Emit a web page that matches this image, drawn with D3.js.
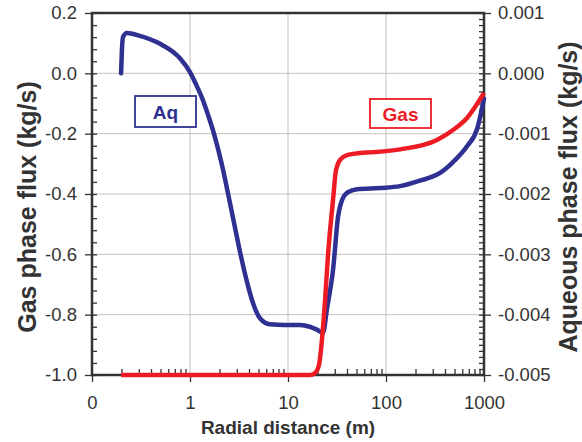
<!DOCTYPE html>
<html>
<head>
<meta charset="utf-8">
<script src="https://cdn.jsdelivr.net/npm/d3@7"></script>
<style>
  body { margin: 0; background: #fff; }
  svg { display: block; font-family: "Liberation Sans", Arial, sans-serif; }
  .tick text { fill: #333; }
</style>
</head>
<body>
<svg id="chart" width="582" height="442"></svg>
<script>
// Radial distance (m) and flux values
const aqDist = [0.198, 0.202, 0.207, 0.227, 0.309, 0.494, 0.79, 1.0, 1.15, 1.33, 1.53, 1.80, 2.12,
    2.50, 2.94, 3.24, 3.82, 4.40, 5.18, 6.55, 9.3, 13.3, 16.7, 19.8, 22.8, 25.0, 28.8, 32.4,
    35.6, 40.9, 50.6, 86.9, 139, 222, 356, 483, 671, 855, 1000];
const aqFlux = [0.0, 0.00039, 0.00060, 0.00067, 0.00062, 0.00049, 0.00025, 0.00002, -0.00018, -0.00041,
    -0.00069, -0.00106, -0.00152, -0.00207, -0.00263, -0.00296, -0.00346, -0.00381, -0.00406,
    -0.00416, -0.00417, -0.00417, -0.00420, -0.00425, -0.00430, -0.00390, -0.00326, -0.00238, -0.00210,
    -0.00197, -0.00192, -0.00190, -0.00187, -0.00178, -0.00165, -0.00147, -0.00121, -0.00091, -0.00042];

const gasDist = [0.198, 1, 10, 16.7, 18.9, 20.7, 22.2, 23.9, 25.6, 28.8, 30.9, 34.0, 40.0, 54.3,
    68.7, 139, 331, 483, 671, 1000];
const gasFlux = [-1.0, -1.0, -1.0, -1.0, -0.993, -0.967, -0.884, -0.751, -0.602, -0.42, -0.32, -0.287,
    -0.271, -0.264, -0.262, -0.252, -0.221, -0.188, -0.148, -0.065];

const xTicks = [0.1, 1, 10, 100, 1000];
const xTickLabels = ["0", "1", "10", "100", "1000"];
const gasTicks = [-1.0, -0.8, -0.6, -0.4, -0.2, 0.0, 0.2];
const aqTicks = [-0.005, -0.004, -0.003, -0.002, -0.001, 0.0, 0.001];

const blue = "#2e3192", red = "#ed1c24", ink = "#333";

const svg = d3.select("#chart");
const plotL = 92, plotR = 484, plotT = 13, plotB = 375;

const x = d3.scaleLog().domain([0.1, 1000]).range([plotL, plotR]);
const yGas = d3.scaleLinear().domain([-1.0, 0.2]).range([plotB, plotT]);
const yAq = d3.scaleLinear().domain([-0.005, 0.001]).range([plotB, plotT]);

// grid
const grid = svg.append("g").attr("stroke", "#c8c0c0").attr("stroke-width", 1);
grid.selectAll(".gx").data(xTicks.slice(1, -1)).join("line")
    .attr("x1", d => x(d)).attr("x2", d => x(d)).attr("y1", plotT).attr("y2", plotB);
grid.selectAll(".gy").data(gasTicks.slice(1, -1)).join("line")
    .attr("x1", plotL).attr("x2", plotR).attr("y1", d => yGas(d)).attr("y2", d => yGas(d));

// minor ticks (inside)
const xMinor = [];
[0.1, 1, 10, 100].forEach(dec => { for (let k = 2; k <= 9; k++) xMinor.push(dec * k); });
const gasMinor = d3.range(-1.0, 0.2001, 0.04);
const aqMinor = d3.range(-0.005, 0.00101, 0.0001);

function styleAxis(g) {
    g.select(".domain").remove();
    g.selectAll(".tick line").attr("stroke", ink).attr("stroke-width", 1.3);
    g.selectAll(".tick text").attr("font-size", "18.5px");
}

svg.append("g").attr("transform", `translate(0,${plotB})`)
    .call(d3.axisBottom(x).tickValues(xMinor).tickSize(-6).tickFormat(""))
    .call(styleAxis);
svg.append("g").attr("transform", `translate(${plotL},0)`)
    .call(d3.axisLeft(yGas).tickValues(gasMinor).tickSize(-5).tickFormat(""))
    .call(styleAxis);
svg.append("g").attr("transform", `translate(${plotR},0)`)
    .call(d3.axisRight(yAq).tickValues(aqMinor).tickSize(-5).tickFormat(""))
    .call(styleAxis);

// major ticks + labels
svg.append("g").attr("transform", `translate(0,${plotB})`)
    .call(d3.axisBottom(x).tickValues(xTicks).tickSize(7).tickPadding(14)
        .tickFormat((d, i) => xTickLabels[i]))
    .call(styleAxis);
svg.append("g").attr("transform", `translate(${plotL},0)`)
    .call(d3.axisLeft(yGas).tickValues(gasTicks).tickSize(7).tickPadding(8)
        .tickFormat(d => d.toFixed(1)))
    .call(styleAxis);
svg.append("g").attr("transform", `translate(${plotR},0)`)
    .call(d3.axisRight(yAq).tickValues(aqTicks).tickSize(7).tickPadding(7)
        .tickFormat(d => d.toFixed(3)))
    .call(styleAxis);

// frame
svg.append("rect").attr("x", plotL).attr("y", plotT)
    .attr("width", plotR - plotL).attr("height", plotB - plotT)
    .attr("fill", "none").attr("stroke", ink).attr("stroke-width", 2.5);

// series
const aqLine = d3.line().x((d, i) => x(aqDist[i])).y(d => yAq(d)).curve(d3.curveMonotoneX);
const gasLine = d3.line().x((d, i) => x(gasDist[i])).y(d => yGas(d)).curve(d3.curveMonotoneX);

svg.append("path").attr("d", aqLine(aqFlux))
    .attr("fill", "none").attr("stroke", blue).attr("stroke-width", 4.5)
    .attr("stroke-linejoin", "round").attr("stroke-linecap", "round");
svg.append("path").attr("d", gasLine(gasFlux))
    .attr("fill", "none").attr("stroke", red).attr("stroke-width", 4.5)
    .attr("stroke-linejoin", "round");

// legend boxes
function labelBox(bx, by, w, h, text, color) {
    svg.append("rect").attr("x", bx).attr("y", by).attr("width", w).attr("height", h)
        .attr("fill", "#fff").attr("stroke", color).attr("stroke-width", 1.8);
    svg.append("text").attr("x", bx + w / 2).attr("y", by + h / 2 + 7)
        .attr("text-anchor", "middle").attr("font-size", "19px").attr("font-weight", "bold")
        .attr("fill", color).text(text);
}
labelBox(135, 96, 61, 31, "Aq", blue);
labelBox(370, 99, 61, 29, "Gas", red);

// axis titles
svg.append("text").attr("x", 288).attr("y", 434).attr("text-anchor", "middle")
    .attr("font-size", "19px").attr("font-weight", "bold").attr("fill", ink)
    .text("Radial distance (m)");
svg.append("text").attr("transform", "translate(36,207) rotate(-90)").attr("text-anchor", "middle")
    .attr("font-size", "25px").attr("font-weight", "bold").attr("fill", ink)
    .text("Gas phase flux (kg/s)");
svg.append("text").attr("transform", "translate(577,197) rotate(-90)").attr("text-anchor", "middle")
    .attr("font-size", "25px").attr("font-weight", "bold").attr("fill", ink)
    .text("Aqueous phase flux (kg/s)");
</script>
</body>
</html>
